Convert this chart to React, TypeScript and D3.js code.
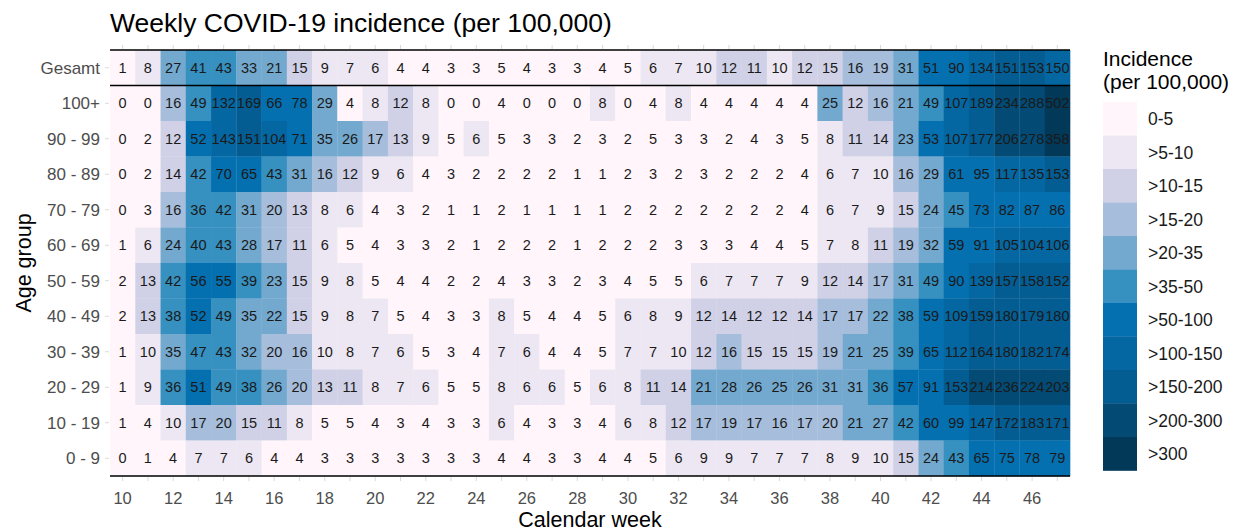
import { useEffect, useRef } from 'react';
import * as d3 from 'd3';

// calendar weeks 10..47
const weeks = d3.range(10, 48);
const tickWeeks = d3.range(10, 47, 2);

const ageGroups = [
  'Gesamt', '100+', '90 - 99', '80 - 89', '70 - 79', '60 - 69',
  '50 - 59', '40 - 49', '30 - 39', '20 - 29', '10 - 19', '0 - 9',
];

const gesamt = [1, 8, 27, 41, 43, 33, 21, 15, 9, 7, 6, 4, 4, 3, 3, 5, 4, 3, 3, 4, 5, 6, 7, 10, 12, 11, 10, 12, 15, 16, 19, 31, 51, 90, 134, 151, 153, 150];
const age100 = [0, 0, 16, 49, 132, 169, 66, 78, 29, 4, 8, 12, 8, 0, 0, 4, 0, 0, 0, 8, 0, 4, 8, 4, 4, 4, 4, 4, 25, 12, 16, 21, 49, 107, 189, 234, 288, 502];
const age90 = [0, 2, 12, 52, 143, 151, 104, 71, 35, 26, 17, 13, 9, 5, 6, 5, 3, 3, 2, 3, 2, 5, 3, 3, 2, 4, 3, 5, 8, 11, 14, 23, 53, 107, 177, 206, 278, 358];
const age80 = [0, 2, 14, 42, 70, 65, 43, 31, 16, 12, 9, 6, 4, 3, 2, 2, 2, 2, 1, 1, 2, 3, 2, 3, 2, 2, 2, 4, 6, 7, 10, 16, 29, 61, 95, 117, 135, 153];
const age70 = [0, 3, 16, 36, 42, 31, 20, 13, 8, 6, 4, 3, 2, 1, 1, 2, 1, 1, 1, 1, 2, 2, 2, 2, 2, 2, 2, 4, 6, 7, 9, 15, 24, 45, 73, 82, 87, 86];
const age60 = [1, 6, 24, 40, 43, 28, 17, 11, 6, 5, 4, 3, 3, 2, 1, 2, 2, 2, 1, 2, 2, 2, 3, 3, 3, 4, 4, 5, 7, 8, 11, 19, 32, 59, 91, 105, 104, 106];
const age50 = [2, 13, 42, 56, 55, 39, 23, 15, 9, 8, 5, 4, 4, 2, 2, 4, 3, 3, 2, 3, 4, 5, 5, 6, 7, 7, 7, 9, 12, 14, 17, 31, 49, 90, 139, 157, 158, 152];
const age40 = [2, 13, 38, 52, 49, 35, 22, 15, 9, 8, 7, 5, 4, 3, 3, 8, 5, 4, 4, 5, 6, 8, 9, 12, 14, 12, 12, 14, 17, 17, 22, 38, 59, 109, 159, 180, 179, 180];
const age30 = [1, 10, 35, 47, 43, 32, 20, 16, 10, 8, 7, 6, 5, 3, 4, 7, 6, 4, 4, 5, 7, 7, 10, 12, 16, 15, 15, 15, 19, 21, 25, 39, 65, 112, 164, 180, 182, 174];
const age20 = [1, 9, 36, 51, 49, 38, 26, 20, 13, 11, 8, 7, 6, 5, 5, 8, 6, 6, 5, 6, 8, 11, 14, 21, 28, 26, 25, 26, 31, 31, 36, 57, 91, 153, 214, 236, 224, 203];
const age10 = [1, 4, 10, 17, 20, 15, 11, 8, 5, 5, 4, 3, 4, 3, 3, 6, 4, 3, 3, 4, 6, 8, 12, 17, 19, 17, 16, 17, 20, 21, 27, 42, 60, 99, 147, 172, 183, 171];
const age0 = [0, 1, 4, 7, 7, 6, 4, 4, 3, 3, 3, 3, 3, 3, 3, 4, 4, 3, 3, 4, 4, 5, 6, 9, 9, 7, 7, 7, 8, 9, 10, 15, 24, 43, 65, 75, 78, 79];

const rowValues = [gesamt, age100, age90, age80, age70, age60, age50, age40, age30, age20, age10, age0];

const thresholds = [5, 10, 15, 20, 35, 50, 100, 150, 200, 300];
const binLabels = ['0-5', '>5-10', '>10-15', '>15-20', '>20-35', '>35-50', '>50-100', '>100-150', '>150-200', '>200-300', '>300'];
const binColors = ['#fff5fa', '#ece7f2', '#d0d1e6', '#a6bddb', '#74a9cf', '#3690c0', '#0570b0', '#0567a2', '#045d92', '#034a74', '#023858'];

export default function App() {
  const svgRef = useRef(null);

  useEffect(() => {
    const svg = d3.select(svgRef.current);
    svg.selectAll('*').remove();

    const width = 1244;
    const height = 531;
    const plot = { left: 110, right: 1070, top: 50, bottom: 476 };
    const font = '"Liberation Sans", Arial, sans-serif';

    svg.attr('width', width).attr('height', height).style('font-family', font);

    const x = d3.scaleBand().domain(weeks.map(String)).range([plot.left, plot.right]);
    const y = d3.scaleBand().domain(ageGroups).range([plot.top, plot.bottom]);
    const binOf = (v) => d3.bisectLeft(thresholds, v);

    const cells = [];
    ageGroups.forEach((g, i) => {
      weeks.forEach((w, j) => {
        const v = rowValues[i][j];
        if (v !== undefined) cells.push({ group: g, week: String(w), value: v });
      });
    });

    // Tiles
    svg.append('g')
      .selectAll('rect')
      .data(cells)
      .join('rect')
      .attr('x', (d) => x(d.week))
      .attr('y', (d) => y(d.group))
      .attr('width', x.bandwidth() + 0.3)
      .attr('height', y.bandwidth() + 0.3)
      .attr('fill', (d) => binColors[binOf(d.value)]);

    // Labels in tiles
    svg.append('g')
      .selectAll('text')
      .data(cells)
      .join('text')
      .attr('x', (d) => x(d.week) + x.bandwidth() / 2)
      .attr('y', (d) => y(d.group) + y.bandwidth() / 2)
      .attr('dy', '0.36em')
      .attr('text-anchor', 'middle')
      .attr('font-size', '14.5px')
      .attr('fill', '#1a1a1a')
      .text((d) => d.value);

    // Separator lines
    [plot.top, y('100+'), plot.bottom].forEach((ly) => {
      svg.append('line')
        .attr('x1', plot.left)
        .attr('x2', plot.right)
        .attr('y1', ly)
        .attr('y2', ly)
        .attr('stroke', '#000')
        .attr('stroke-width', 1.6);
    });

    // Small ticks
    const ticks = svg.append('g').attr('stroke', '#d9d9d9').attr('stroke-width', 1);
    weeks.forEach((w) => {
      const cx = x(String(w)) + x.bandwidth() / 2;
      ticks.append('line').attr('x1', cx).attr('x2', cx).attr('y1', plot.top - 5).attr('y2', plot.top - 1);
      ticks.append('line').attr('x1', cx).attr('x2', cx).attr('y1', plot.bottom + 1).attr('y2', plot.bottom + 5);
    });
    ageGroups.forEach((g) => {
      const cy = y(g) + y.bandwidth() / 2;
      ticks.append('line').attr('x1', plot.left - 5).attr('x2', plot.left - 1).attr('y1', cy).attr('y2', cy);
    });

    // X tick labels
    svg.append('g')
      .selectAll('text')
      .data(tickWeeks)
      .join('text')
      .attr('x', (d) => x(String(d)) + x.bandwidth() / 2)
      .attr('y', 504)
      .attr('text-anchor', 'middle')
      .attr('font-size', '16.5px')
      .attr('fill', '#4d4d4d')
      .text((d) => d);

    // Y labels
    svg.append('g')
      .selectAll('text')
      .data(ageGroups)
      .join('text')
      .attr('x', plot.left - 10)
      .attr('y', (d) => y(d) + y.bandwidth() / 2)
      .attr('dy', '0.36em')
      .attr('text-anchor', 'end')
      .attr('font-size', '17px')
      .attr('fill', '#4d4d4d')
      .text((d) => d);

    // Axis titles
    svg.append('text')
      .attr('x', (plot.left + plot.right) / 2)
      .attr('y', 527)
      .attr('text-anchor', 'middle')
      .attr('font-size', '21.5px')
      .attr('fill', '#000')
      .text('Calendar week');

    svg.append('text')
      .attr('transform', `translate(31,${(plot.top + plot.bottom) / 2}) rotate(-90)`)
      .attr('text-anchor', 'middle')
      .attr('font-size', '21.5px')
      .attr('fill', '#000')
      .text('Age group');

    // Title
    svg.append('text')
      .attr('x', plot.left)
      .attr('y', 32)
      .attr('font-size', '26.5px')
      .attr('fill', '#000')
      .text('Weekly COVID-19 incidence (per 100,000)');

    // Legend
    const legend = svg.append('g').attr('transform', 'translate(1103,0)');
    legend.append('text').attr('x', 0).attr('y', 66).attr('font-size', '21px').text('Incidence');
    legend.append('text').attr('x', 0).attr('y', 89).attr('font-size', '21px').text('(per 100,000)');

    const keyH = 33.5;
    const ly = d3.scaleBand().domain(binLabels).range([102, 102 + keyH * binLabels.length]);
    legend.selectAll('rect.key')
      .data(binLabels)
      .join('rect')
      .attr('class', 'key')
      .attr('x', 0)
      .attr('y', (d) => ly(d))
      .attr('width', 34)
      .attr('height', ly.bandwidth() + 0.3)
      .attr('fill', (d, i) => binColors[i]);

    legend.selectAll('text.lab')
      .data(binLabels)
      .join('text')
      .attr('class', 'lab')
      .attr('x', 45)
      .attr('y', (d) => ly(d) + ly.bandwidth() / 2)
      .attr('dy', '0.36em')
      .attr('font-size', '17.5px')
      .attr('fill', '#1a1a1a')
      .text((d) => d);
  }, []);

  return (
    <svg ref={svgRef} style={{ position: 'absolute', left: 0, top: 0, background: '#fff' }}></svg>
  );
}
